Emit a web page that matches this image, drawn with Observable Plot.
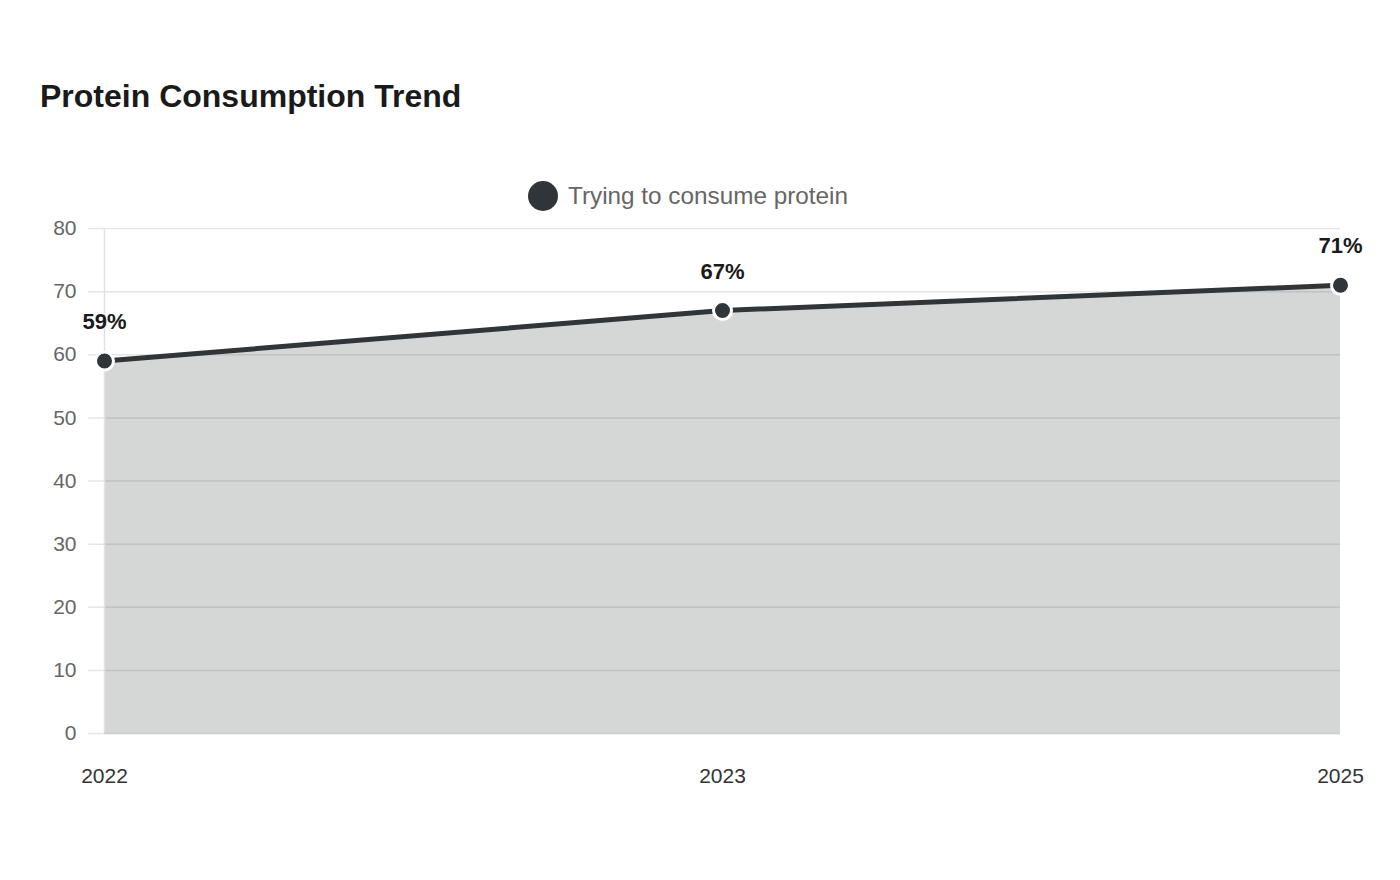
<!DOCTYPE html>
<html>
<head>
<meta charset="utf-8">
<script src="https://cdn.jsdelivr.net/npm/d3@7"></script>
<script src="https://cdn.jsdelivr.net/npm/@observablehq/plot@0.6"></script>
<style>
  html, body { margin: 0; padding: 0; background: #fff; }
  body { font-family: "Liberation Sans", Arial, sans-serif; }
  #wrap { position: relative; width: 1400px; height: 880px; overflow: hidden; }
  #title { position: absolute; left: 40px; top: 80px; margin: 0; font-size: 32px; line-height: 32px; font-weight: bold; color: #1a1a1a; white-space: nowrap; }
  #legend { position: absolute; left: 0; width: 1400px; top: 181px; height: 30px; display: flex; justify-content: center; align-items: center; gap: 10px; padding-right: 24px; box-sizing: border-box; }
  #legend .sw { width: 30px; height: 30px; border-radius: 50%; background: #2f3538; }
  #legend .lb { font-size: 24.3px; color: #666; }
  #chart { position: absolute; left: 0; top: 160px; }
</style>
</head>
<body>
<div id="wrap">
  <h1 id="title">Protein Consumption Trend</h1>
  <div id="legend"><span class="sw"></span><span class="lb">Trying to consume protein</span></div>
  <div id="chart"></div>
</div>
<script>
// Share of people trying to consume protein, by survey year
const years = ["2022", "2023", "2025"];
const values = [59, 67, 71];
const yTicks = [0, 10, 20, 30, 40, 50, 60, 70, 80];
const seriesName = "Trying to consume protein";

const rows = years.map((year, i) => ({year, value: values[i], series: seriesName}));
const ink = "#2f3538";

const chart = Plot.plot({
  width: 1400,
  height: 720,
  marginLeft: 104,
  marginRight: 60,
  marginTop: 68,
  marginBottom: 147,
  style: {fontFamily: "'Liberation Sans', Arial, sans-serif", fontSize: "21px", background: "transparent"},
  x: {type: "point", domain: years, padding: 0},
  y: {domain: [0, 80]},
  marks: [
    // horizontal grid, extended a little past the left edge
    Plot.ruleY(yTicks, {y: d => d, stroke: "#e6e6e6", strokeWidth: 1.5, insetLeft: -16}),
    Plot.areaY(rows, {x: "year", y: "value", fill: ink, fillOpacity: 0.2}),
    Plot.ruleX([years[0]], {stroke: "#e2e2e2", strokeWidth: 1.5, y1: 0, y2: 80}),
    Plot.ruleY([0], {stroke: "#cfcfcf", strokeWidth: 1.5}),
    Plot.axisY({ticks: yTicks, tickSize: 0, tickPadding: 28, fill: "#666", fontSize: 21, label: null}),
    Plot.axisX({tickSize: 0, tickPadding: 35, fill: "#333", fontSize: 21, label: null}),
    Plot.line(rows, {x: "year", y: "value", stroke: ink, strokeWidth: 5}),
    Plot.dot(rows, {x: "year", y: "value", r: 9, fill: ink, stroke: "#fff", strokeWidth: 3}),
    Plot.text(rows, {x: "year", y: "value", text: d => `${d.value}%`, dy: -39, fontSize: 22, fontWeight: "bold", fill: "#1a1a1a", textAnchor: "middle"})
  ]
});
document.getElementById("chart").appendChild(chart);
</script>
</body>
</html>
